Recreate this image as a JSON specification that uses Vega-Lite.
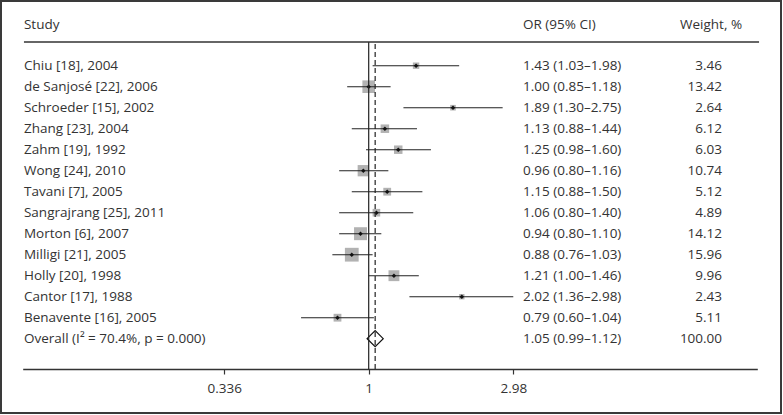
{
  "$schema": "https://vega.github.io/schema/vega-lite/v6.json",
  "width": 780,
  "height": 412,
  "autosize": "none",
  "padding": {"left": 1, "top": 1, "right": 2, "bottom": 2},
  "background": "white",
  "config": {
    "view": {"stroke": "#3a3a3a", "strokeWidth": 2},
    "font": "Open Sans",
    "text": {"font": "Open Sans", "fontSize": 13.5, "color": "#333333"}
  },
  "datasets": {
    "rows": [
      {"row": 0, "kind": "study", "study": "Chiu [18], 2004", "or": 1.43, "lo": 1.03, "hi": 1.98, "weight": 3.46, "ortext": "1.43 (1.03–1.98)", "wtext": "3.46"},
      {"row": 1, "kind": "study", "study": "de Sanjosé [22], 2006", "or": 1.00, "lo": 0.85, "hi": 1.18, "weight": 13.42, "ortext": "1.00 (0.85–1.18)", "wtext": "13.42"},
      {"row": 2, "kind": "study", "study": "Schroeder [15], 2002", "or": 1.89, "lo": 1.30, "hi": 2.75, "weight": 2.64, "ortext": "1.89 (1.30–2.75)", "wtext": "2.64"},
      {"row": 3, "kind": "study", "study": "Zhang [23], 2004", "or": 1.13, "lo": 0.88, "hi": 1.44, "weight": 6.12, "ortext": "1.13 (0.88–1.44)", "wtext": "6.12"},
      {"row": 4, "kind": "study", "study": "Zahm [19], 1992", "or": 1.25, "lo": 0.98, "hi": 1.60, "weight": 6.03, "ortext": "1.25 (0.98–1.60)", "wtext": "6.03"},
      {"row": 5, "kind": "study", "study": "Wong [24], 2010", "or": 0.96, "lo": 0.80, "hi": 1.16, "weight": 10.74, "ortext": "0.96 (0.80–1.16)", "wtext": "10.74"},
      {"row": 6, "kind": "study", "study": "Tavani [7], 2005", "or": 1.15, "lo": 0.88, "hi": 1.50, "weight": 5.12, "ortext": "1.15 (0.88–1.50)", "wtext": "5.12"},
      {"row": 7, "kind": "study", "study": "Sangrajrang [25], 2011", "or": 1.06, "lo": 0.80, "hi": 1.40, "weight": 4.89, "ortext": "1.06 (0.80–1.40)", "wtext": "4.89"},
      {"row": 8, "kind": "study", "study": "Morton [6], 2007", "or": 0.94, "lo": 0.80, "hi": 1.10, "weight": 14.12, "ortext": "0.94 (0.80–1.10)", "wtext": "14.12"},
      {"row": 9, "kind": "study", "study": "Milligi [21], 2005", "or": 0.88, "lo": 0.76, "hi": 1.03, "weight": 15.96, "ortext": "0.88 (0.76–1.03)", "wtext": "15.96"},
      {"row": 10, "kind": "study", "study": "Holly [20], 1998", "or": 1.21, "lo": 1.00, "hi": 1.46, "weight": 9.96, "ortext": "1.21 (1.00–1.46)", "wtext": "9.96"},
      {"row": 11, "kind": "study", "study": "Cantor [17], 1988", "or": 2.02, "lo": 1.36, "hi": 2.98, "weight": 2.43, "ortext": "2.02 (1.36–2.98)", "wtext": "2.43"},
      {"row": 12, "kind": "study", "study": "Benavente [16], 2005", "or": 0.79, "lo": 0.60, "hi": 1.04, "weight": 5.11, "ortext": "0.79 (0.60–1.04)", "wtext": "5.11"},
      {"row": 13, "kind": "overall", "study": "Overall (I² = 70.4%, p = 0.000)", "or": 1.05, "lo": 0.99, "hi": 1.12, "weight": 100.00, "ortext": "1.05 (0.99–1.12)", "wtext": "100.00"}
    ]
  },
  "layer": [
    {
      "data": {"name": "rows"},
      "transform": [{"filter": "datum.kind === 'study'"}],
      "mark": {"type": "point", "shape": "square", "filled": true, "color": "#b2b2b2", "opacity": 1},
      "encoding": {
        "x": {"field": "or", "type": "quantitative",
              "scale": {"type": "log", "domain": [0.0733, 18.82], "range": [21.7, 756.3], "nice": false, "zero": false},
              "axis": {"title": null, "values": [0.336, 1, 2.98], "format": "~g", "offset": -44, "grid": false,
                       "domainColor": "#333333", "domainWidth": 1.3, "tickColor": "#333333", "tickWidth": 1.2, "tickSize": 5,
                       "labelFont": "Open Sans", "labelFontSize": 13.5, "labelColor": "#333333", "labelPadding": 7,
                       "labelFlush": false, "labelOverlap": false}},
        "y": {"field": "row", "type": "quantitative", "scale": {"domain": [0, 13], "range": [64.7, 337.7], "nice": false, "zero": false}, "axis": null},
        "size": {"field": "weight", "type": "quantitative", "scale": {"type": "linear", "domain": [0, 16], "range": [0, 190]}, "legend": null}
      }
    },
    {
      "data": {"name": "rows"},
      "transform": [{"filter": "datum.kind === 'study'"}],
      "mark": {"type": "rule", "color": "#222222", "strokeWidth": 1.1},
      "encoding": {
        "x": {"field": "lo", "type": "quantitative"},
        "x2": {"field": "hi"},
        "y": {"field": "row", "type": "quantitative", "axis": null}
      }
    },
    {
      "data": {"name": "rows"},
      "transform": [{"filter": "datum.kind === 'study'"}],
      "mark": {"type": "point", "shape": "diamond", "filled": true, "color": "#111111", "size": 20, "opacity": 1},
      "encoding": {
        "x": {"field": "or", "type": "quantitative"},
        "y": {"field": "row", "type": "quantitative", "axis": null}
      }
    },
    {
      "data": {"name": "rows"},
      "transform": [{"filter": "datum.kind === 'overall'"}],
      "mark": {"type": "point", "shape": "diamond", "filled": true, "fill": "white", "stroke": "#111111", "strokeWidth": 1.2, "size": 260, "opacity": 1},
      "encoding": {
        "x": {"field": "or", "type": "quantitative"},
        "y": {"field": "row", "type": "quantitative", "axis": null}
      }
    },
    {
      "data": {"values": [{}]},
      "mark": {"type": "rule", "color": "#222222", "strokeWidth": 1.2},
      "encoding": {
        "x": {"datum": 1, "type": "quantitative"},
        "y": {"datum": -1.129, "type": "quantitative", "axis": null},
        "y2": {"datum": 14.457}
      }
    },
    {
      "data": {"values": [{}]},
      "mark": {"type": "rule", "color": "#222222", "strokeWidth": 1.2, "strokeDash": [5, 3]},
      "encoding": {
        "x": {"datum": 1.05, "type": "quantitative"},
        "y": {"datum": -1.03, "type": "quantitative", "axis": null},
        "y2": {"datum": 14.457}
      }
    },
    {
      "data": {"values": [{}]},
      "mark": {"type": "rule", "color": "#333333", "strokeWidth": 1.4},
      "encoding": {
        "x": {"datum": 0.0740, "type": "quantitative"},
        "x2": {"datum": 19.07},
        "y": {"datum": -1.129, "type": "quantitative", "axis": null}
      }
    },
    {
      "data": {"name": "rows"},
      "mark": {"type": "text", "align": "left", "baseline": "middle"},
      "encoding": {
        "x": {"datum": 0.0740, "type": "quantitative"},
        "y": {"field": "row", "type": "quantitative", "axis": null},
        "text": {"field": "study"}
      }
    },
    {
      "data": {"name": "rows"},
      "mark": {"type": "text", "align": "left", "baseline": "middle"},
      "encoding": {
        "x": {"datum": 3.207, "type": "quantitative"},
        "y": {"field": "row", "type": "quantitative", "axis": null},
        "text": {"field": "ortext"}
      }
    },
    {
      "data": {"name": "rows"},
      "mark": {"type": "text", "align": "right", "baseline": "middle"},
      "encoding": {
        "x": {"datum": 14.42, "type": "quantitative"},
        "y": {"field": "row", "type": "quantitative", "axis": null},
        "text": {"field": "wtext"}
      }
    },
    {
      "data": {"values": [{"h": "Study"}]},
      "mark": {"type": "text", "align": "left", "baseline": "middle"},
      "encoding": {
        "x": {"datum": 0.0740, "type": "quantitative"},
        "y": {"datum": -1.95, "type": "quantitative", "axis": null},
        "text": {"field": "h"}
      }
    },
    {
      "data": {"values": [{"h": "OR (95% CI)"}]},
      "mark": {"type": "text", "align": "left", "baseline": "middle"},
      "encoding": {
        "x": {"datum": 3.207, "type": "quantitative"},
        "y": {"datum": -1.95, "type": "quantitative", "axis": null},
        "text": {"field": "h"}
      }
    },
    {
      "data": {"values": [{"h": "Weight, %"}]},
      "mark": {"type": "text", "align": "left", "baseline": "middle"},
      "encoding": {
        "x": {"datum": 10.50, "type": "quantitative"},
        "y": {"datum": -1.95, "type": "quantitative", "axis": null},
        "text": {"field": "h"}
      }
    }
  ]
}
